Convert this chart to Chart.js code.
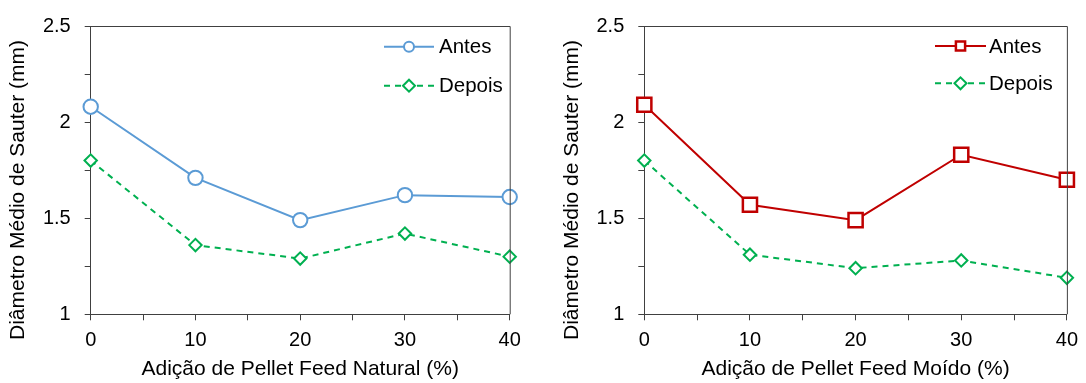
<!DOCTYPE html>
<html>
<head>
<meta charset="utf-8">
<script src="https://cdn.jsdelivr.net/npm/chart.js@4"></script>
<style>
  html, body { margin: 0; padding: 0; background: #fff; }
  .row { display: flex; width: 1086px; height: 383px; }
  .row canvas { display: block; }
</style>
</head>
<body>
<div class="row">
  <canvas id="chartNatural" width="543" height="383"></canvas>
  <canvas id="chartMoido" width="543" height="383"></canvas>
</div>
<script>
'use strict';

// x categories (% pellet feed) and tick labels
const adicao = [0, 10, 20, 30, 40];
const xTickLabels = [0, 10, 20, 30, 40];
const yTickLabels = [1, 1.5, 2, 2.5];

// Diametro medio de Sauter (mm)
const naturalAntes = [2.08, 1.71, 1.49, 1.62, 1.61];
const naturalDepois = [1.80, 1.36, 1.29, 1.42, 1.30];
const moidoAntes = [2.09, 1.57, 1.49, 1.83, 1.70];
const moidoDepois = [1.80, 1.31, 1.24, 1.28, 1.19];

const FONT = "'Liberation Sans', Arial, sans-serif";
const AXIS = '#404040';
const Y_TITLE = 'Diâmetro Médio de Sauter (mm)';

const toPoints = ys => ys.map((y, i) => ({ x: adicao[i], y: y }));

// top and right edges of the box, plus the y title (excel puts it a bit low)
const framePlugin = {
    id: 'frame',
    afterDraw(chart, args, opts) {
        const { ctx, chartArea: a } = chart;
        ctx.save();
        ctx.strokeStyle = AXIS;
        ctx.lineWidth = 1;
        ctx.beginPath();
        ctx.moveTo(a.left, a.top + 0.5);
        ctx.lineTo(a.right + 0.5, a.top + 0.5);
        ctx.lineTo(a.right + 0.5, a.bottom);
        ctx.stroke();

        ctx.translate(opts.titleX, opts.titleY);
        ctx.rotate(-Math.PI / 2);
        ctx.fillStyle = '#000';
        ctx.font = '21px ' + FONT;
        ctx.textAlign = 'center';
        ctx.textBaseline = 'middle';
        ctx.fillText(Y_TITLE, 0, 0);
        ctx.restore();
    }
};

// excel-like legend: line + marker + label
const lineLegend = {
    id: 'lineLegend',
    afterDraw(chart, args, opts) {
        const ctx = chart.ctx;
        ctx.save();
        chart.data.datasets.forEach((ds, i) => {
            const y = opts.rows[i];
            ctx.strokeStyle = ds.borderColor;
            ctx.lineWidth = ds.borderWidth;
            ctx.setLineDash(ds.borderDash || []);
            ctx.beginPath();
            ctx.moveTo(opts.x0, y);
            ctx.lineTo(opts.x1, y);
            ctx.stroke();
            ctx.setLineDash([]);
            ctx.fillStyle = '#fff';
            ctx.strokeStyle = ds.pointBorderColor;
            ctx.lineWidth = ds.pointBorderWidth;
            Chart.helpers.drawPoint(ctx, {
                pointStyle: ds.pointStyle,
                radius: opts.radius[i],
                borderWidth: ds.pointBorderWidth,
                rotation: 0
            }, (opts.x0 + opts.x1) / 2, y);
            ctx.fillStyle = '#000';
            ctx.font = '20.5px ' + FONT;
            ctx.textBaseline = 'middle';
            ctx.textAlign = 'left';
            ctx.fillText(ds.label, opts.tx, y + 1);
        });
        ctx.restore();
    }
};

function makeChart(id, antes, depois, antesStyle, xTitle, geo) {
    new Chart(document.getElementById(id), {
        type: 'line',
        data: {
            datasets: [{
                label: 'Antes',
                data: toPoints(antes),
                borderColor: antesStyle.color,
                borderWidth: 2,
                pointStyle: antesStyle.shape,
                pointRadius: antesStyle.radius,
                pointBorderWidth: antesStyle.pointBorder,
                pointBorderColor: antesStyle.color,
                pointBackgroundColor: '#fff',
                clip: false
            }, {
                label: 'Depois',
                data: toPoints(depois),
                borderColor: '#00B050',
                borderWidth: 2,
                borderDash: [6, 5],
                pointStyle: 'rectRot',
                pointRadius: 6.2,
                pointBorderWidth: 2,
                pointBorderColor: '#00B050',
                pointBackgroundColor: '#fff',
                clip: false
            }]
        },
        options: {
            responsive: false,
            devicePixelRatio: 1,
            animation: false,
            layout: { padding: { top: 22, right: geo.right, left: 0, bottom: 0 } },
            plugins: {
                legend: { display: false },
                tooltip: { enabled: false },
                lineLegend: geo.legend,
                frame: { titleX: geo.yTitleX, titleY: 190 }
            },
            scales: {
                x: {
                    type: 'linear',
                    min: 0,
                    max: 40,
                    afterFit: s => { s.height = 68.7; },
                    border: { color: AXIS, width: 1 },
                    grid: { drawOnChartArea: false, tickLength: 6, color: AXIS },
                    ticks: {
                        stepSize: 5,
                        padding: 8,
                        maxRotation: 0,
                        color: '#000',
                        font: { family: FONT, size: 20 },
                        callback: v => xTickLabels.includes(v) ? String(v) : ''
                    },
                    title: {
                        display: true,
                        text: xTitle,
                        color: '#000',
                        font: { family: FONT, size: 21 },
                        padding: { top: 0, bottom: 1 }
                    }
                },
                y: {
                    min: 1,
                    max: 2.5,
                    afterFit: s => { s.width = geo.yWidth; },
                    border: { color: AXIS, width: 1 },
                    grid: { drawOnChartArea: false, tickLength: 6, color: AXIS },
                    ticks: {
                        stepSize: 0.25,
                        padding: 14,
                        color: '#000',
                        font: { family: FONT, size: 20 },
                        callback: v => yTickLabels.some(t => Math.abs(t - v) < 1e-6) ? String(v) : ''
                    }
                }
            }
        },
        plugins: [framePlugin, lineLegend]
    });
}

makeChart('chartNatural', naturalAntes, naturalDepois,
    { color: '#5B9BD5', shape: 'circle', radius: 7.2, pointBorder: 2 },
    'Adição de Pellet Feed Natural (%)',
    { right: 33.3, yWidth: 90.7, yTitleX: 18,
      legend: { x0: 384, x1: 434, tx: 439, rows: [46.7, 85.7], radius: [5, 6] } });

makeChart('chartMoido', moidoAntes, moidoDepois,
    { color: '#C00000', shape: 'rect', radius: 10, pointBorder: 2.5 },
    'Adição de Pellet Feed Moído (%)',
    { right: 16.3, yWidth: 101.3, yTitleX: 29.3,
      legend: { x0: 392, x1: 443, tx: 446, rows: [46, 83.3], radius: [6.5, 6] } });
</script>
</body>
</html>
